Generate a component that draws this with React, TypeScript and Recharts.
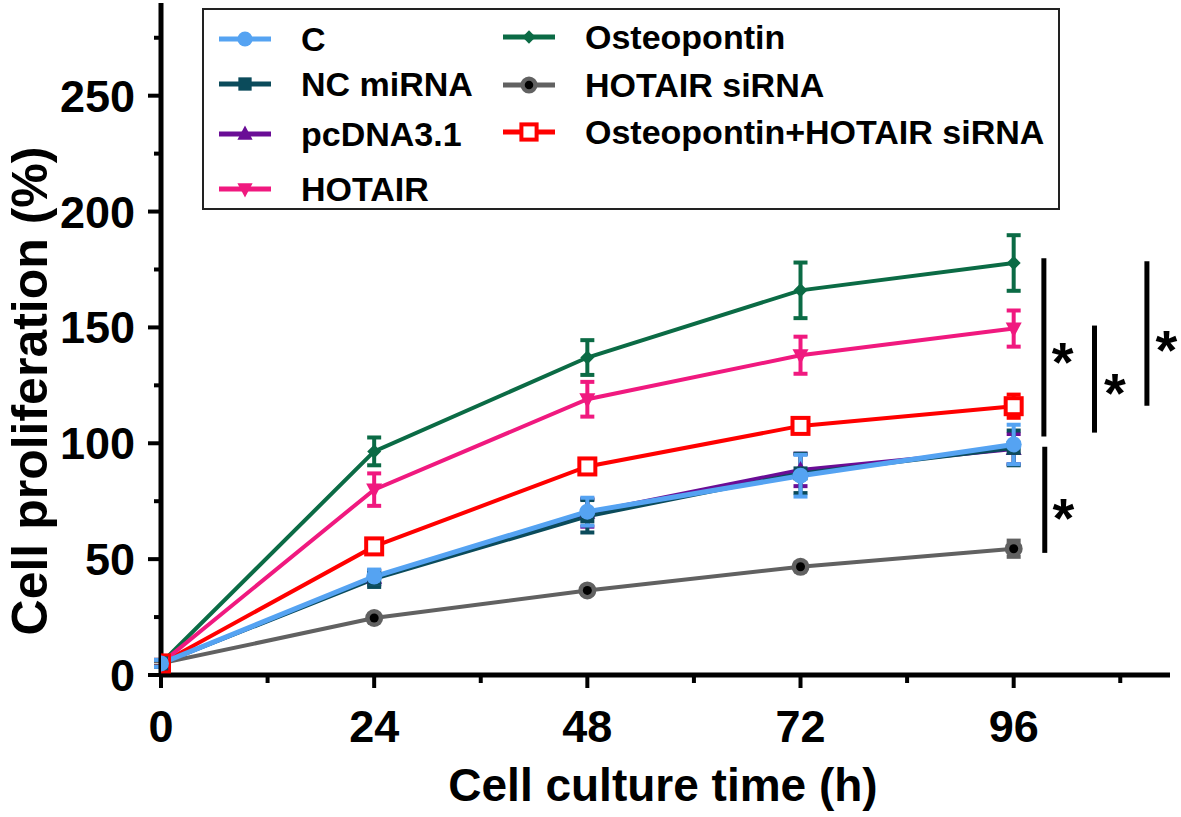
import React from 'react';
import { LineChart, Line, XAxis, YAxis, ErrorBar, ReferenceLine, ReferenceDot, Legend } from 'recharts';

const times = [0, 24, 48, 72, 96];

const cVals = [5, 42.5, 70.5, 86, 99.5];
const cErr = [1.5, 3, 6, 9, 8.5];
const ncVals = [5, 41.5, 68.5, 87, 98];
const ncErr = [1.5, 3.5, 7, 8.5, 7.5];
const pcVals = [5, 42, 70, 88.5, 97.5];
const pcErr = [1.5, 3, 6, 7, 6.5];
const hotVals = [5, 80, 119, 138, 149.5];
const hotErr = [1.5, 7, 7.5, 8, 7.8];
const ostVals = [5, 96.5, 137, 166, 177.8];
const ostErr = [1.5, 6, 7.5, 12, 12];
const sirVals = [5, 24.6, 36.5, 46.7, 54.5];
const sirErr = [1, 1.5, 1.5, 1.5, 3.5];
const osVals = [5, 55.5, 90, 107.5, 116];
const osErr = [1.5, 2, 2.5, 3, 5];

const xMajorTicks = [0, 24, 48, 72, 96];
const xAllTicks = [0, 12, 24, 36, 48, 60, 72, 84, 96, 108];
const yMajorTicks = [0, 50, 100, 150, 200, 250];
const yAllTicks = [0, 25, 50, 75, 100, 125, 150, 175, 200, 225, 250, 275];

const sigLines = [
  { x: 99.4, y1: 179.8, y2: 102.9 },
  { x: 105.1, y1: 150.8, y2: 104.6 },
  { x: 111.0, y1: 178.5, y2: 116.2 },
  { x: 99.5, y1: 98.5, y2: 52.7 },
];
const sigStars = [
  { x: 101.5, y: 140 },
  { x: 107.4, y: 126.6 },
  { x: 113.2, y: 144.8 },
  { x: 101.6, y: 72.6 },
];

type Kind = 'circle' | 'square' | 'up' | 'down' | 'diamond' | 'ringdot' | 'hollow';

const series: { key: string; name: string; color: string; kind: Kind; values: number[]; errors: number[]; sw: number }[] = [
  { key: 'ost', name: 'Osteopontin', color: '#0b6b45', kind: 'diamond', values: ostVals, errors: ostErr, sw: 4 },
  { key: 'sir', name: 'HOTAIR siRNA', color: '#616161', kind: 'ringdot', values: sirVals, errors: sirErr, sw: 4 },
  { key: 'os', name: 'Osteopontin+HOTAIR siRNA', color: '#ff0000', kind: 'hollow', values: osVals, errors: osErr, sw: 4 },
  { key: 'hot', name: 'HOTAIR', color: '#f0197f', kind: 'down', values: hotVals, errors: hotErr, sw: 4 },
  { key: 'pc', name: 'pcDNA3.1', color: '#6a0d96', kind: 'up', values: pcVals, errors: pcErr, sw: 4 },
  { key: 'nc', name: 'NC miRNA', color: '#0b4b5b', kind: 'square', values: ncVals, errors: ncErr, sw: 4 },
  { key: 'c', name: 'C', color: '#55a3f2', kind: 'circle', values: cVals, errors: cErr, sw: 5 },
];

const legendCol1 = ['c', 'nc', 'pc', 'hot'];
const legendCol2 = ['ost', 'sir', 'os'];

const data = times.map((t, i) => {
  const row: Record<string, number> = { t };
  series.forEach((s) => {
    row[s.key] = s.values[i];
    row[s.key + 'Err'] = s.errors[i];
  });
  return row;
});

const FONT = '"Liberation Sans", Arial, Helvetica, sans-serif';

function Marker({ kind, cx, cy, color, k }: { kind: Kind; cx: number; cy: number; color: string; k: number }) {
  switch (kind) {
    case 'circle':
      return <circle cx={cx} cy={cy} r={8 * k} fill={color} />;
    case 'square':
      return <rect x={cx - 7 * k} y={cy - 7 * k} width={14 * k} height={14 * k} fill={color} />;
    case 'up':
      return <polygon points={`${cx},${cy - 9 * k} ${cx - 8 * k},${cy + 6 * k} ${cx + 8 * k},${cy + 6 * k}`} fill={color} />;
    case 'down':
      return <polygon points={`${cx - 8 * k},${cy - 6 * k} ${cx + 8 * k},${cy - 6 * k} ${cx},${cy + 9 * k}`} fill={color} />;
    case 'diamond':
      return <polygon points={`${cx},${cy - 7 * k} ${cx + 7 * k},${cy} ${cx},${cy + 7 * k} ${cx - 7 * k},${cy}`} fill={color} />;
    case 'ringdot':
      return (
        <g>
          <circle cx={cx} cy={cy} r={9 * k} fill={color} />
          <circle cx={cx} cy={cy} r={4.5 * k} fill="#000" />
        </g>
      );
    case 'hollow':
      return <rect x={cx - 8 * k} y={cy - 8 * k} width={16 * k} height={16 * k} fill="#fff" stroke={color} strokeWidth={4} />;
  }
  return null;
}

const XTick = (props: any) => {
  const { x, y, payload } = props;
  const major = xMajorTicks.includes(payload.value);
  return (
    <g>
      <line x1={x} y1={y} x2={x} y2={y + (major ? 13 : 8)} stroke="#000" strokeWidth={4} />
      {major && (
        <text x={x} y={y + 67} textAnchor="middle" fontFamily={FONT} fontWeight="bold" fontSize={45} fill="#000">
          {payload.value}
        </text>
      )}
    </g>
  );
};

const YTick = (props: any) => {
  const { x, y, payload } = props;
  const major = yMajorTicks.includes(payload.value);
  return (
    <g>
      <line x1={x} y1={y} x2={x - (major ? 13 : 7)} y2={y} stroke="#000" strokeWidth={4} />
      {major && (
        <text x={x - 26} y={y + 16} textAnchor="end" fontFamily={FONT} fontWeight="bold" fontSize={45} fill="#000">
          {payload.value}
        </text>
      )}
    </g>
  );
};

const LegendBox = () => {
  const byKey: Record<string, (typeof series)[number]> = {};
  series.forEach((s) => (byKey[s.key] = s));
  const col1Y = [29, 74, 124, 179];
  const col2Y = [27, 75, 122];
  const item = (key: string, left: number, cy: number) => {
    const s = byKey[key];
    return (
      <div key={key} style={{ position: 'absolute', left, top: cy - 20, height: 40, display: 'flex', alignItems: 'center', whiteSpace: 'nowrap' }}>
        <svg width={56} height={40} style={{ display: 'block' }}>
          <line x1={2} y1={20} x2={54} y2={20} stroke={s.color} strokeWidth={5} />
          <Marker kind={s.kind} cx={28} cy={20} color={s.color} k={0.95} />
        </svg>
        <span style={{ marginLeft: 28, fontFamily: FONT, fontWeight: 'bold', fontSize: 34, color: '#000', lineHeight: '40px' }}>{s.name}</span>
      </div>
    );
  };
  return (
    <div style={{ position: 'relative', width: 858, height: 202, border: '2px solid #222', boxSizing: 'border-box', background: '#fff' }}>
      {legendCol1.map((k, i) => item(k, 13, col1Y[i]))}
      {legendCol2.map((k, i) => item(k, 297, col2Y[i]))}
    </div>
  );
};

const YLabel = (props: any) => {
  const vb = props.viewBox || { x: 0, y: 3 };
  const cx = vb.x + 47;
  const cy = 391;
  return (
    <text x={cx} y={cy} transform={`rotate(-90 ${cx} ${cy})`} textAnchor="middle" fontFamily={FONT} fontWeight="bold" fontSize={50} fill="#000">
      Cell proliferation (%)
    </text>
  );
};

const XLabel = (props: any) => {
  const vb = props.viewBox || { x: 161, y: 675, width: 1009 };
  return (
    <text x={663} y={vb.y + 126} textAnchor="middle" fontFamily={FONT} fontWeight="bold" fontSize={46} fill="#000">
      Cell culture time (h)
    </text>
  );
};

export default function App() {
  return (
    <div style={{ position: 'absolute', left: 0, top: 0, width: 1181, height: 817, background: '#fff' }}>
      <LineChart width={1181} height={817} data={data} margin={{ top: 3, right: 11, left: 0, bottom: 0 }}>
        <XAxis
          dataKey="t"
          type="number"
          domain={[0, 113.6]}
          ticks={xAllTicks}
          interval={0}
          tickSize={0}
          tickMargin={0}
          tickLine={false}
          tick={<XTick />}
          height={142}
          axisLine={{ stroke: '#000', strokeWidth: 5 }}
          allowDataOverflow
          label={<XLabel />}
        />
        <YAxis
          type="number"
          domain={[0, 290]}
          ticks={yAllTicks}
          interval={0}
          tickSize={0}
          tickMargin={0}
          tickLine={false}
          tick={<YTick />}
          width={161}
          axisLine={{ stroke: '#000', strokeWidth: 5 }}
          allowDataOverflow
          label={<YLabel />}
        />
        {series.map((s) => (
          <Line
            key={s.key}
            type="linear"
            dataKey={s.key}
            name={s.name}
            stroke={s.color}
            strokeWidth={s.sw}
            isAnimationActive={false}
            activeDot={false}
            dot={(p: any) => <Marker key={`${s.key}-${p.index}`} kind={s.kind} cx={p.cx} cy={p.cy} color={s.color} k={1} />}
          >
            <ErrorBar dataKey={s.key + 'Err'} direction="y" width={7} strokeWidth={4} stroke={s.color} isAnimationActive={false} />
          </Line>
        ))}
        {sigLines.map((l, i) => (
          <ReferenceLine
            key={`sl${i}`}
            segment={[{ x: l.x, y: l.y1 }, { x: l.x, y: l.y2 }]}
            stroke="#000"
            strokeWidth={5}
            ifOverflow="visible"
          />
        ))}
        {sigStars.map((s, i) => (
          <ReferenceDot
            key={`ss${i}`}
            x={s.x}
            y={s.y}
            r={0}
            ifOverflow="visible"
            shape={(p: any) => (
              <text x={p.cx} y={p.cy + 30} textAnchor="middle" fontFamily={FONT} fontWeight="bold" fontSize={56} fill="#000">
                *
              </text>
            )}
          />
        ))}
        <Legend
          layout="vertical"
          align="center"
          verticalAlign="middle"
          wrapperStyle={{ left: 202, top: 8, width: 858, height: 202 }}
          content={() => <LegendBox />}
        />
      </LineChart>
    </div>
  );
}
